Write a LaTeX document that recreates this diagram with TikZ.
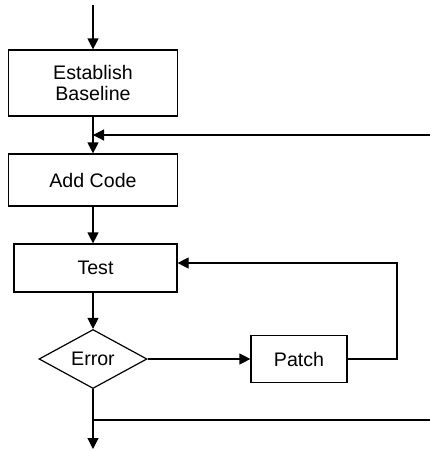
\documentclass[tikz,border=0pt]{standalone}
\usepackage{fontspec}
\setmainfont{Liberation Sans}
\usetikzlibrary{arrows.meta,shapes.geometric}

\begin{document}
\begin{tikzpicture}[
  x=0.5pt,y=-0.5pt,
  font=\fontsize{9.8}{10.4}\selectfont,
  box/.style={draw,line width=0.6pt,align=center,inner sep=2pt},
  decision/.style={draw,diamond,line width=0.6pt,inner sep=0pt,
    minimum width=54pt,minimum height=29.5pt},
  flow/.style={-{Triangle[length=5.5pt,width=5.5pt]},line width=0.6pt},
  link/.style={line width=0.6pt}
]
  \useasboundingbox (0,0) rectangle (430,451);
  \coordinate (start) at (93,5);
  \node[box,minimum width=84.5pt,minimum height=33pt] (base) at (93,83)
    {Establish\\Baseline};
  \node[box,minimum width=84.5pt,minimum height=26pt] (add) at (93,180)
    {Add Code};
  \node[box,minimum width=81.5pt,minimum height=24pt] (test) at (95.5,268)
    {Test};
  \node[decision] (err) at (93,359) {Error};
  \node[box,minimum width=48pt,minimum height=23.5pt] (patch) at (299,359)
    {Patch};
  \coordinate (back) at (430,135);
  \coordinate (ret) at (397,263);
  \coordinate (exit) at (430,420);
  \coordinate (finish) at (93,449);

  \draw[flow] (start) -- (base);
  \draw[flow] (base) -- (add);
  \draw[flow] (back) -- (base.south |- back);
  \draw[flow] (add.south) -- (add.south |- test.north);
  \draw[flow] (test.south -| err) -- (err);
  \draw[flow] (err) -- (patch);
  % patch loops back to test
  \draw[flow] (patch) -| (ret) -- (ret -| test.east);
  \draw[flow] (err) -- (finish);
  \draw[link] (exit) -- (err.south |- exit);
\end{tikzpicture}
\end{document}
